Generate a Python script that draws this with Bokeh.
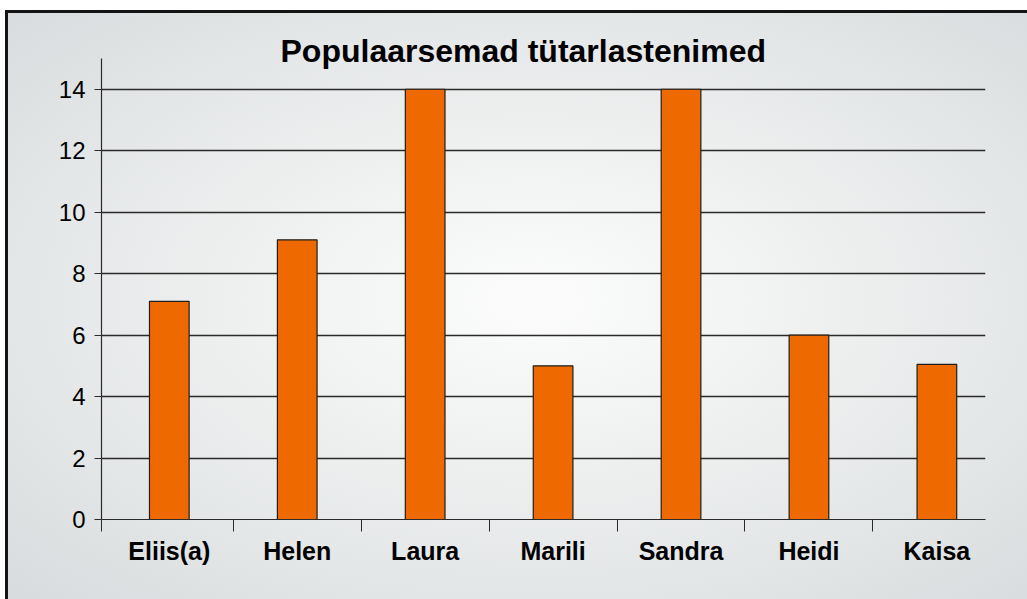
from bokeh.plotting import figure
from bokeh.models import Range1d, FixedTicker, Title
from bokeh.embed import file_html
from bokeh.resources import INLINE

names = ["Eliis(a)", "Helen", "Laura", "Marili", "Sandra", "Heidi", "Kaisa"]
counts = [7.1, 9.1, 14, 5.0, 14, 6, 5.05]
y_ticks = [0, 2, 4, 6, 8, 10, 12, 14]
title_text = "Populaarsemad tütarlastenimed"

xs = list(range(len(names)))

p = figure(width=1027, height=599, output_backend="svg", toolbar_location=None,
           x_range=Range1d(-0.53, 6.38), y_range=Range1d(0, 15),
           min_border_left=101, min_border_right=42, min_border_top=58, min_border_bottom=80)

p.styles = {
    "background": ", ".join([
        "linear-gradient(#ffffff, #ffffff) 0 0 / 100% 10px no-repeat",
        "linear-gradient(#ffffff, #ffffff) 0 0 / 5px 100% no-repeat",
        "linear-gradient(#141414, #141414) 5px 10px / 100% 3px no-repeat",
        "linear-gradient(#141414, #141414) 5px 10px / 3px 100% no-repeat",
        "radial-gradient(ellipse farthest-corner at 52% 50%, #fcfcfc 0%, #eef0f0 40%, #d8dbdd 100%)",
    ]),
}
p.background_fill_alpha = 0
p.border_fill_alpha = 0
p.outline_line_color = None

p.title = Title(text=title_text, align="left", text_font="Liberation Sans",
                text_font_size="32px", text_font_style="bold", text_color="#000000",
                offset=179, standoff=-21)

p.vbar(x=xs, top=counts, width=0.31, bottom=0, fill_color="#EE6A00",
       line_color="#1e1e1e", line_width=1.2)

p.xgrid.visible = False
p.ygrid.ticker = FixedTicker(ticks=y_ticks)
p.ygrid.grid_line_color = "#2a2a2a"
p.ygrid.grid_line_width = 1.3

# y axis
ya = p.yaxis[0]
ya.ticker = FixedTicker(ticks=y_ticks)
ya.axis_line_color = "#2a2a2a"
ya.axis_line_width = 1.2
ya.major_tick_line_color = "#2a2a2a"
ya.major_tick_out = 7
ya.major_tick_in = 0
ya.minor_tick_line_color = None
ya.major_label_text_font = "Liberation Sans"
ya.major_label_text_font_size = "24px"
ya.major_label_text_color = "#000000"
ya.major_label_standoff = 9

# x axis
xa = p.xaxis[0]
xa.ticker = FixedTicker(ticks=xs, minor_ticks=[-0.53, 0.5, 1.5, 2.5, 3.5, 4.5, 5.5])
xa.major_label_overrides = {i: n for i, n in zip(xs, names)}
xa.axis_line_color = "#2a2a2a"
xa.axis_line_width = 1.2
xa.major_tick_line_color = None
xa.major_tick_out = 0
xa.major_tick_in = 0
xa.minor_tick_line_color = "#2a2a2a"
xa.minor_tick_out = 12
xa.minor_tick_in = 0
xa.major_label_text_font = "Liberation Sans"
xa.major_label_text_font_size = "25px"
xa.major_label_text_font_style = "bold"
xa.major_label_text_color = "#000000"
xa.major_label_standoff = 5

open("out.html", "w").write(file_html(p, INLINE))
